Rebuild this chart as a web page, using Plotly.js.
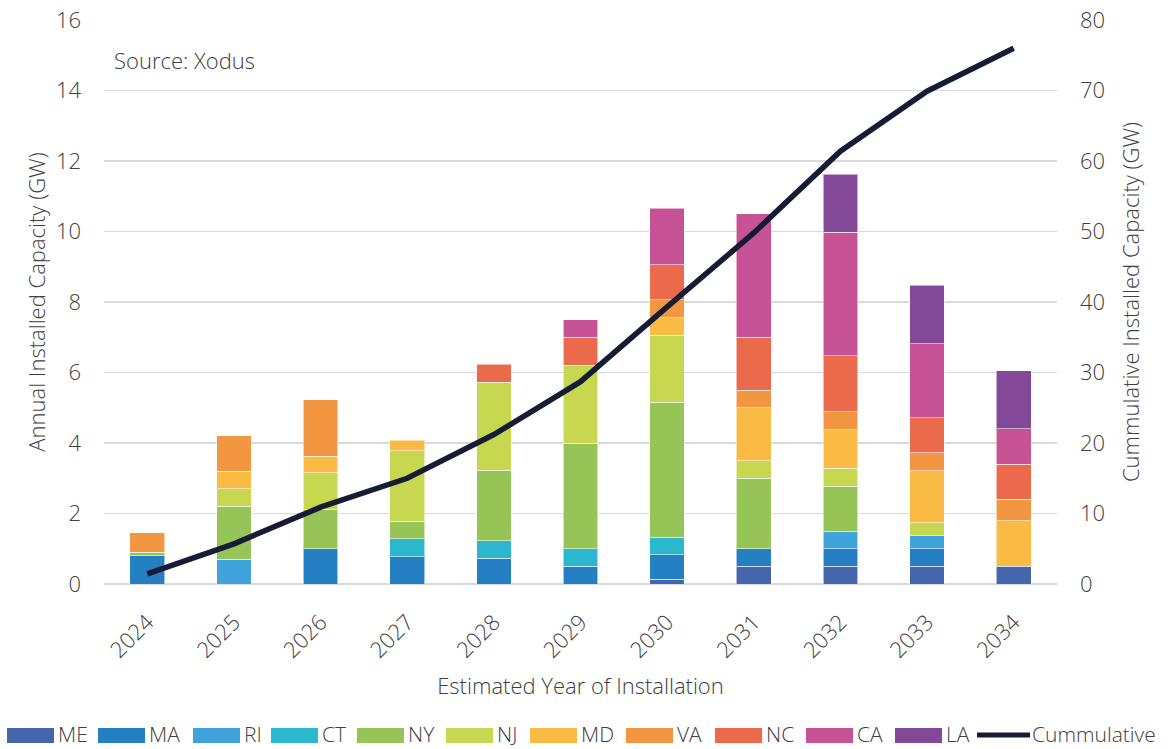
<!DOCTYPE html>
<html>
<head>
<meta charset="utf-8">
<script src="https://cdn.plot.ly/plotly-3.0.1.min.js"></script>
<style>html,body{margin:0;padding:0;background:#fff}#chart{width:1174px;height:749px}</style>
</head>
<body>
<div id="chart"></div>
<script>
const years = ['2024','2025','2026','2027','2028','2029','2030','2031','2032','2033','2034'];
const ME = [null,null,null,null,null,null,0.13,0.5,0.5,0.5,0.5];
const MA = [0.8,null,1.0,0.78,0.73,0.5,0.7,0.5,0.5,0.5,null];
const RI = [null,0.7,null,null,null,null,null,null,0.5,0.38,null];
const CT = [null,null,null,0.5,0.5,0.5,0.5,null,null,null,null];
const NY = [0.1,1.5,1.1,0.5,2.0,3.0,3.83,2.0,1.28,null,null];
const NJ = [null,0.5,1.05,2.0,2.5,2.2,1.9,0.5,0.5,0.36,null];
const MD = [null,0.5,0.48,0.3,null,null,0.5,1.5,1.1,1.48,1.3];
const VA = [0.55,1.0,1.6,null,null,null,0.5,0.5,0.5,0.5,0.6];
const NC = [null,null,null,null,0.5,0.8,1.0,1.5,1.6,1.0,1.0];
const CA = [null,null,null,null,null,0.5,1.6,3.5,3.5,2.1,1.0];
const LA = [null,null,null,null,null,null,null,null,1.65,1.65,1.65];
const cumulative = [1.45,5.7,10.9,15.0,21.2,28.7,39.3,49.8,61.4,69.9,76.0];

const seriesNames = ['ME','MA','RI','CT','NY','NJ','MD','VA','NC','CA','LA'];
const seriesValues = [ME,MA,RI,CT,NY,NJ,MD,VA,NC,CA,LA];
const seriesColors = ['#4565AD','#2580C3','#3FA3DC','#2BB8CE','#96C457','#C8D750','#FABB45','#F39641','#EC6A4C','#C85296','#834897'];
const lineName = 'Cummulative';
const lineColor = '#161C33';

const FONT = '"Open Sans", "Noto Sans", sans-serif';
const TXT = '#404040';
const FS = 22;
const LFS = 21;

// plot box in pixels (layout)
const W = 1174, H = 749, ML = 104, MR = 117, MT = 20, MB = 165;
const PW = W - ML - MR, PH = H - MT - MB;
const px2x = p => (p - ML) / PW;
const py2y = p => (H - MB - p) / PH;

const traces = seriesNames.map((n,i)=>({
  type:'bar', name:n, x:years, y:seriesValues[i],
  marker:{color:seriesColors[i], line:{color:'rgba(255,255,255,0.55)', width:1}},
  hoverinfo:'skip', showlegend:false
}));
traces.push({
  type:'scatter', mode:'lines', name:lineName, x:years, y:cumulative, yaxis:'y2',
  line:{color:lineColor, width:5.5}, hoverinfo:'skip', showlegend:false
});

// custom legend layout (pixel positions of swatch starts)
const legendSwatchX = [7,98,193,271,357,446,530,626,715,806,895];
const legendLineX = 977;
const legendY = 735;
const shapes = [];
const annotations = [{
  xref:'paper', yref:'paper', x:px2x(112), y:py2y(60), xanchor:'left', yanchor:'middle',
  text:'Source: Xodus', showarrow:false, font:{size:FS, color:TXT}
}];
seriesNames.forEach((n,i)=>{
  const x0 = legendSwatchX[i];
  shapes.push({type:'rect', xref:'paper', yref:'paper', x0:px2x(x0), x1:px2x(x0+47),
    y0:py2y(legendY+8), y1:py2y(legendY-7), fillcolor:seriesColors[i], line:{width:0}, layer:'above'});
  annotations.push({xref:'paper', yref:'paper', x:px2x(x0+50), y:py2y(legendY-1), xanchor:'left', yanchor:'middle',
    text:n, showarrow:false, borderpad:0, font:{size:LFS, color:TXT}});
});
shapes.push({type:'line', xref:'paper', yref:'paper', x0:px2x(legendLineX), x1:px2x(legendLineX+53),
  y0:py2y(legendY), y1:py2y(legendY), line:{color:lineColor, width:5}, layer:'above'});
annotations.push({xref:'paper', yref:'paper', x:px2x(legendLineX+54), y:py2y(legendY-1), xanchor:'left', yanchor:'middle',
  text:lineName, showarrow:false, borderpad:0, font:{size:LFS, color:TXT}});

const layout = {
  width:W, height:H,
  margin:{l:ML, r:MR, t:MT, b:MB},
  barmode:'stack', bargap:0.6,
  paper_bgcolor:'#fff', plot_bgcolor:'#fff',
  font:{family:FONT, color:TXT, size:FS, weight:300},
  showlegend:false,
  xaxis:{
    type:'category', tickangle:-45, ticks:'', showline:false, showgrid:false,
    tickfont:{size:FS, color:TXT}, ticklabelstandoff:20,
    title:{text:'Estimated Year of Installation', font:{size:FS, color:TXT}, standoff:16},
    automargin:false
  },
  yaxis:{
    range:[0,16], dtick:2, tick0:0, ticks:'', showline:false,
    gridcolor:'#D9D9D9', gridwidth:1.5, zeroline:true, zerolinecolor:'#D9D9D9', zerolinewidth:1.5,
    tickfont:{size:FS, color:TXT}, ticklabelstandoff:22,
    title:{text:'Annual Installed Capacity (GW)', font:{size:FS, color:TXT}, standoff:4},
    automargin:false
  },
  yaxis2:{
    range:[0,80], dtick:10, tick0:0, overlaying:'y', side:'right', ticks:'', showgrid:false, zeroline:false,
    showline:false, tickfont:{size:FS, color:TXT}, ticklabelstandoff:22,
    title:{text:'Cummulative Installed Capacity (GW)', font:{size:FS, color:TXT}, standoff:19},
    automargin:false
  },
  shapes: shapes,
  annotations: annotations
};

Plotly.newPlot('chart', traces, layout, {displayModeBar:false, staticPlot:true});
</script>
</body>
</html>
